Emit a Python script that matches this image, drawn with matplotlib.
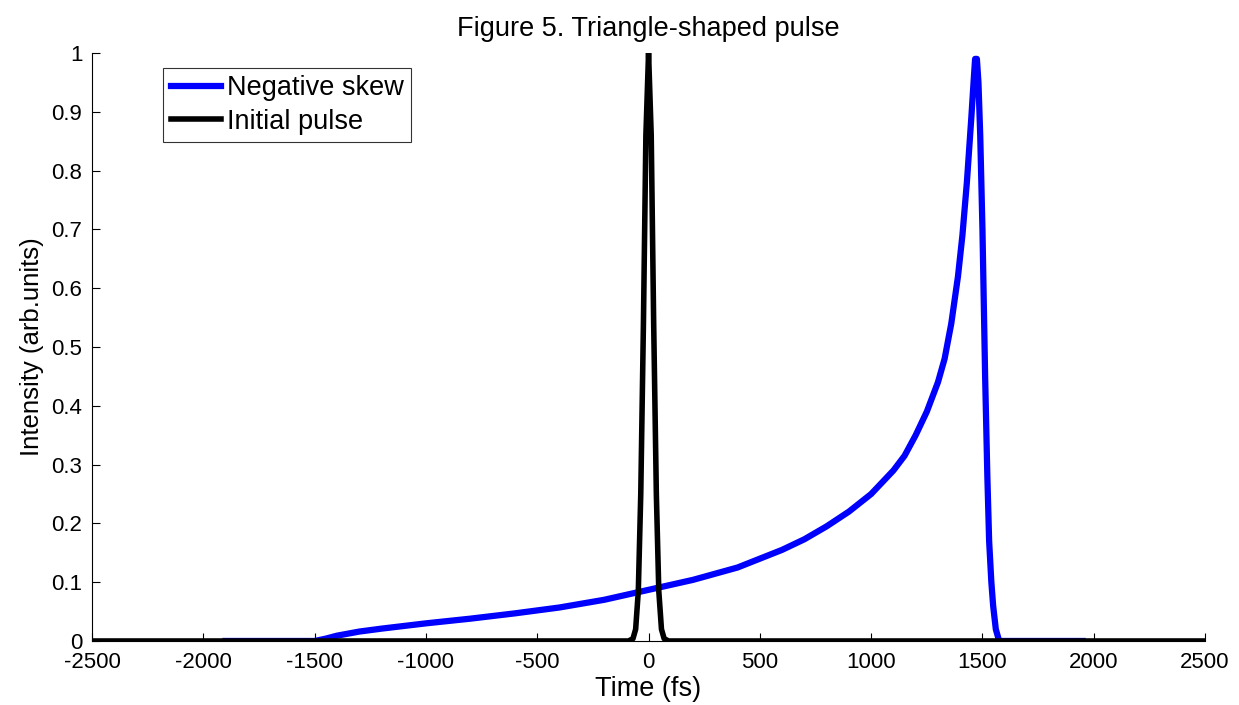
import matplotlib
matplotlib.use("Agg")
import matplotlib.pyplot as plt
from matplotlib.ticker import FixedLocator, FixedFormatter

plt.rcParams['font.family'] = ['Liberation Sans', 'DejaVu Sans']
plt.rcParams['axes.unicode_minus'] = False

# Skewed output pulse (time in fs, normalised intensity)
skew_t = [-1900, -1500, -1450, -1400, -1300, -1200, -1000, -800, -600, -400,
          -200, 0, 200, 400, 600, 700, 800, 900, 1000, 1100, 1150, 1200,
          1250, 1300, 1330, 1360, 1390, 1410, 1430, 1450, 1460, 1467, 1475,
          1482, 1490, 1500, 1512, 1522, 1530, 1540, 1548, 1560, 1575, 1950]
skew_i = [0, 0, 0.004, 0.009, 0.016, 0.021, 0.030, 0.038, 0.047, 0.057,
          0.070, 0.087, 0.104, 0.125, 0.155, 0.173, 0.195, 0.220, 0.250,
          0.290, 0.315, 0.350, 0.390, 0.440, 0.480, 0.540, 0.620, 0.690,
          0.780, 0.890, 0.950, 0.990, 0.990, 0.950, 0.860, 0.700, 0.450,
          0.280, 0.170, 0.100, 0.060, 0.020, 0, 0]

# Initial pulse
init_t = [-2500, -90, -70, -58, -46, -35, -23, -12, 0, 12, 23, 35, 46, 58,
          70, 90, 2500]
init_i = [0, 0, 0.004, 0.02, 0.085, 0.25, 0.54, 0.86, 1.0, 0.86, 0.54,
          0.25, 0.085, 0.02, 0.004, 0, 0]

x_ticks = [-2500, -2000, -1500, -1000, -500, 0, 500, 1000, 1500, 2000, 2500]
y_ticks = [0, 0.1, 0.2, 0.3, 0.4, 0.5, 0.6, 0.7, 0.8, 0.9, 1]
y_tick_labels = ['0', '0.1', '0.2', '0.3', '0.4', '0.5', '0.6', '0.7',
                 '0.8', '0.9', '1']

fig = plt.figure(figsize=(12.39, 7.05), dpi=100)
ax = fig.add_axes([0.0743, 0.0908, 0.8983, 0.834])

ax.plot(skew_t, skew_i, color='#0000ff', lw=4.5, label='Negative skew',
        solid_joinstyle='round')
ax.plot(init_t, init_i, color='black', lw=4.0, label='Initial pulse',
        solid_joinstyle='round')

ax.set_xlim(-2500, 2500)
ax.set_ylim(0, 1)
ax.xaxis.set_major_locator(FixedLocator(x_ticks))
ax.set_xticklabels([str(v) for v in x_ticks])
ax.yaxis.set_major_locator(FixedLocator(y_ticks))
ax.yaxis.set_major_formatter(FixedFormatter(y_tick_labels))

for side in ('top', 'right'):
    ax.spines[side].set_visible(False)
for side in ('left', 'bottom'):
    ax.spines[side].set_linewidth(0.8)
ax.tick_params(direction='in', length=6, width=0.8, labelsize=16,
               colors='black')
ax.tick_params(axis='x', pad=8)
ax.tick_params(axis='y', pad=7)

ax.set_xlabel('Time (fs)', fontsize=19.5, labelpad=2)
ax.set_ylabel('Intensity (arb.units)', fontsize=18.5, labelpad=5)
ax.set_title('Figure 5. Triangle-shaped pulse', fontsize=19.5, pad=12)

leg = ax.legend(loc='upper left', bbox_to_anchor=(0.064, 0.975),
                fontsize=19.5, frameon=True, fancybox=False,
                handlelength=1.85, handletextpad=0.22, borderpad=0.28,
                labelspacing=0.28, borderaxespad=0)
leg.get_frame().set_edgecolor('black')
leg.get_frame().set_linewidth(0.8)

fig.savefig('out.png', dpi=100)
